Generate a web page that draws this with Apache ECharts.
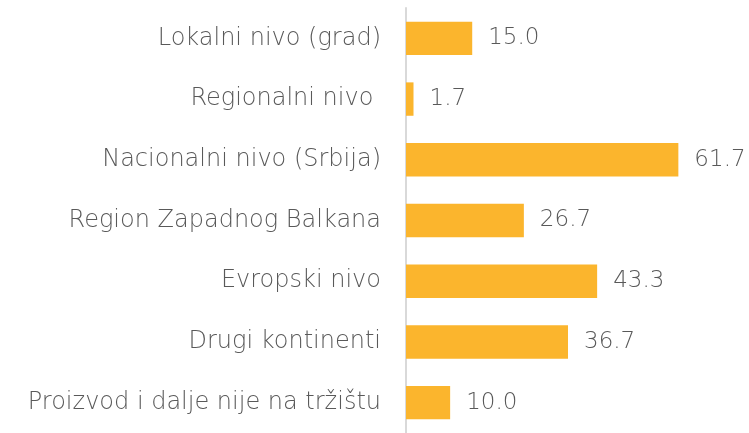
<!DOCTYPE html>
<html><head><meta charset="utf-8">
<script src="https://cdn.jsdelivr.net/npm/echarts@6/dist/echarts.min.js"></script>
<style>html,body{margin:0;padding:0;background:#fff}#c{width:749px;height:433px}</style>
</head><body><div id="c"></div>
<script>
const categories = ["Lokalni nivo (grad)", "Regionalni nivo ", "Nacionalni nivo (Srbija)", "Region Zapadnog Balkana", "Evropski nivo", "Drugi kontinenti", "Proizvod i dalje nije na tržištu"];
const values = [15.0, 1.7, 61.7, 26.7, 43.3, 36.7, 10.0];

const chart = echarts.init(document.getElementById('c'));
const font = "DejaVu Sans";
chart.setOption({
  animation: false,
  grid: { left: 406, right: 34, top: 8, bottom: -6, containLabel: false },
  xAxis: { type: 'value', min: 0, max: 70, show: false },
  yAxis: {
    type: 'category', inverse: true, data: categories,
    axisLine: { show: true, lineStyle: { color: '#d9d9d9', width: 2 } },
    axisTick: { show: false },
    axisLabel: { color: '#595959', fontSize: 24, fontFamily: font, fontWeight: 200, margin: 25 }
  },
  series: [{
    type: 'bar', data: values, barWidth: '55%',
    itemStyle: { color: '#FBB52D' },
    label: { show: true, position: 'right', distance: 16, color: '#595959', fontSize: 23, fontFamily: font, fontWeight: 200,
      formatter: p => p.value.toFixed(1) }
  }]
});
</script></body></html>
